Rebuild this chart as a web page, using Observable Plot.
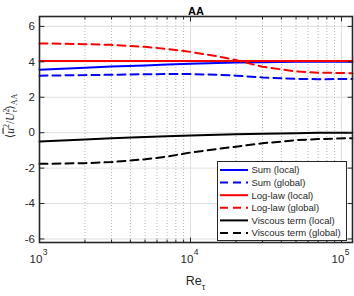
<!DOCTYPE html>
<html><head><meta charset="utf-8">
<script src="https://cdn.jsdelivr.net/npm/d3@7"></script>
<script src="https://cdn.jsdelivr.net/npm/@observablehq/plot@0.6"></script>
<style>body{margin:0;background:#fff}svg{font-family:"Liberation Sans",Arial,sans-serif}</style>
</head><body><div id="chart"></div>
<script>
// ---- data ----
const reTau      = [1000, 2000, 3000, 5000, 7000, 10000, 15000, 20000, 30000, 50000, 70000, 118300];
const sumLocal   = [3.55, 3.67, 3.73, 3.80, 3.85, 3.89, 3.93, 3.96, 3.98, 4.00, 4.01, 4.01];
const sumGlobal  = [3.22, 3.25, 3.27, 3.30, 3.31, 3.31, 3.27, 3.22, 3.12, 3.04, 3.02, 3.03];
const logLocal   = [4.05, 4.05, 4.05, 4.05, 4.05, 4.05, 4.05, 4.05, 4.05, 4.05, 4.05, 4.05];
const logGlobal  = [5.04, 5.00, 4.96, 4.85, 4.73, 4.56, 4.32, 4.10, 3.72, 3.46, 3.39, 3.36];
const viscLocal  = [-0.50, -0.38, -0.32, -0.25, -0.20, -0.16, -0.12, -0.09, -0.06, -0.03, -0.01, 0.00];
const viscGlobal = [-1.76, -1.72, -1.66, -1.50, -1.35, -1.12, -0.92, -0.79, -0.60, -0.42, -0.36, -0.31];

const seriesNames  = ["Sum (local)", "Sum (global)", "Log-law (local)", "Log-law (global)", "Viscous term (local)", "Viscous term (global)"];
const seriesValues = [sumLocal, sumGlobal, logLocal, logGlobal, viscLocal, viscGlobal];
const seriesColors = ["#0000ff", "#0000ff", "#ff0000", "#ff0000", "#000000", "#000000"];
const seriesDashed = [false, true, false, true, false, true];

const yTicks = [-6, -4, -2, 0, 2, 4, 6];
const xMajor = [1e3, 1e4, 1e5];
const xMinor = [2e3, 3e3, 4e3, 5e3, 6e3, 7e3, 8e3, 9e3, 2e4, 3e4, 4e4, 5e4, 6e4, 7e4, 8e4, 9e4];
const titleText = "AA";

// ---- chart ----
const dash = "8,5";
const series = seriesNames.map((name, i) => ({
  name, color: seriesColors[i], dashed: seriesDashed[i],
  rows: reTau.map((x, j) => ({x, y: seriesValues[i][j]}))
}));
const tickLine = () => ({draw(ctx, l) { ctx.moveTo(0, 0); ctx.lineTo(0, -l); }});
const axisColor = "#262626";

const plot = Plot.plot({
  width: 354, height: 296,
  marginLeft: 39, marginRight: 2, marginTop: 16, marginBottom: 54,
  style: {fontFamily: '"Liberation Sans",Arial,sans-serif', fontSize: "11.5px", background: "white", color: axisColor, overflow: "visible"},
  x: {type: "log", domain: [1000, 118300]},
  y: {domain: [-6.2, 6.56]},
  marks: [
    Plot.ruleY(yTicks, {stroke: "#dfdfdf", strokeWidth: 1}),
    Plot.ruleX(xMinor, {stroke: "#b5b5b5", strokeWidth: 1, strokeDasharray: "1,2"}),
    Plot.ruleX(xMajor, {stroke: "#dfdfdf", strokeWidth: 1}),
    ...series.map(s => Plot.line(s.rows, {x: "x", y: "y", stroke: s.color, strokeWidth: 2, strokeDasharray: s.dashed ? dash : null})),
    Plot.frame({stroke: axisColor, strokeWidth: 1.6}),
    // inward ticks
    Plot.vector(xMajor, {x: d => d, frameAnchor: "bottom", length: 4.5, rotate: 0, anchor: "start", shape: tickLine(), stroke: axisColor, strokeWidth: 1}),
    Plot.vector(xMinor, {x: d => d, frameAnchor: "bottom", length: 2.5, rotate: 0, anchor: "start", shape: tickLine(), stroke: axisColor, strokeWidth: 1}),
    Plot.vector(xMajor, {x: d => d, frameAnchor: "top", length: 4.5, rotate: 180, anchor: "start", shape: tickLine(), stroke: axisColor, strokeWidth: 1}),
    Plot.vector(xMinor, {x: d => d, frameAnchor: "top", length: 2.5, rotate: 180, anchor: "start", shape: tickLine(), stroke: axisColor, strokeWidth: 1}),
    Plot.vector(yTicks, {y: d => d, frameAnchor: "left", length: 4.5, rotate: 90, anchor: "start", shape: tickLine(), stroke: axisColor, strokeWidth: 1}),
    Plot.vector(yTicks, {y: d => d, frameAnchor: "right", length: 4.5, rotate: -90, anchor: "start", shape: tickLine(), stroke: axisColor, strokeWidth: 1}),
    Plot.axisY(yTicks, {anchor: "left", tickSize: 0, tickPadding: 4.5, label: null, fontSize: 11.5, tickFormat: d => String(d)}),
    Plot.axisX(xMajor, {anchor: "bottom", tickSize: 0, tickPadding: 12, label: null, fontSize: 11.5, dx: -3.5, tickFormat: () => "10"}),
    Plot.text(xMajor, {x: d => d, frameAnchor: "bottom", lineAnchor: "middle", text: d => String(Math.round(Math.log10(d))), dx: 3.2, dy: 10, textAnchor: "start", fontSize: 8.5, fill: axisColor}),
    Plot.text([titleText], {frameAnchor: "top", dy: -9.5, fontWeight: "bold", fontSize: 11, fill: "#000"})
  ]
});
document.getElementById("chart").appendChild(plot);

const svg = d3.select(plot);
// x label
const xl = svg.append("text").attr("x", 195.5).attr("y", 285).attr("text-anchor", "middle")
  .attr("font-size", 12.5).attr("fill", axisColor);
xl.append("tspan").text("Re");
xl.append("tspan").attr("dy", 4.5).attr("font-size", 9).text("τ");

// y label
const yl = svg.append("text").attr("transform", "translate(13.5,116) rotate(-90)").attr("text-anchor", "middle")
  .attr("font-family", '"Liberation Serif","DejaVu Serif",serif').attr("font-size", 11.5).attr("fill", axisColor);
yl.append("tspan").text("⟨");
yl.append("tspan").attr("font-style", "italic").attr("text-decoration", "overline").text("u");
yl.append("tspan").attr("dy", -4.5).attr("font-size", 8).text("2");
yl.append("tspan").attr("dy", 4.5).text("/");
yl.append("tspan").attr("font-style", "italic").text("U");
yl.append("tspan").attr("dy", -4.5).attr("font-size", 8).text("2");
yl.append("tspan").attr("dx", -4).attr("dy", 7.5).attr("font-size", 8).attr("font-style", "italic").text("τ");
yl.append("tspan").attr("dy", -3).text("⟩");
yl.append("tspan").attr("dy", 3).attr("font-size", 8).text("AA");

// legend
const lg = svg.append("g").attr("text-anchor", "start");
lg.append("rect").attr("x", 217.5).attr("y", 161.5).attr("width", 129).attr("height", 79)
  .attr("fill", "white").attr("stroke", axisColor).attr("stroke-width", 1);
series.forEach((s, i) => {
  const y = 170 + i * 12.6;
  lg.append("line").attr("x1", 220).attr("x2", 248).attr("y1", y).attr("y2", y)
    .attr("stroke", s.color).attr("stroke-width", 2).attr("stroke-dasharray", s.dashed ? dash : null);
  lg.append("text").attr("x", 251.5).attr("y", y + 3.4).attr("font-size", 9.5).attr("fill", axisColor).text(s.name);
});
</script></body></html>
